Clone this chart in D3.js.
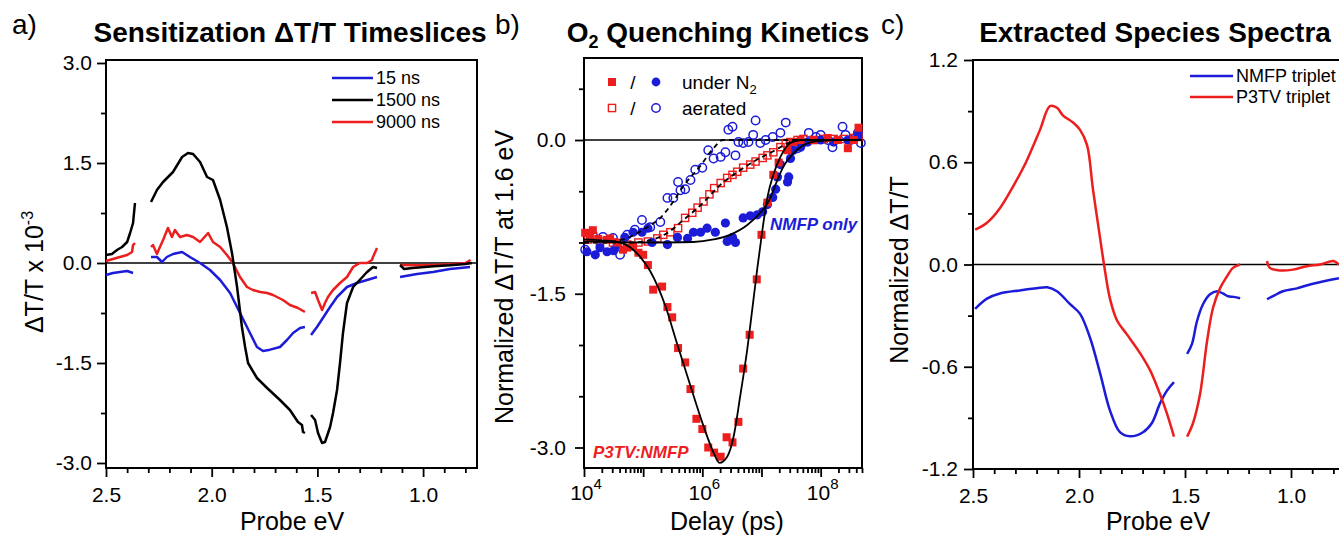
<!DOCTYPE html>
<html>
<head>
<meta charset="utf-8">
<script src="https://cdn.jsdelivr.net/npm/d3@7"></script>
<style>
  body { margin: 0; background: #fff; }
  svg { font-family: "Liberation Sans", Arial, sans-serif; }
</style>
</head>
<body>
<svg id="chart" width="1339" height="536"></svg>
<script>
// ---- panel a: timeslices, [probe eV, dT/T x 1e-3], split in detector segments
const slice15ns = [
  [[2.5,-0.18],[2.467,-0.15],[2.434,-0.135],[2.40,-0.12],[2.372,-0.15]],
  [[2.287,0.09],[2.259,0.09],[2.235,0.015],[2.212,0.09],[2.183,0.135],[2.14,0.165],[2.103,0.09],[2.055,0],[2.008,-0.105],[1.96,-0.255],[1.913,-0.45],[1.866,-0.75],[1.819,-1.05],[1.786,-1.26],[1.757,-1.32],[1.724,-1.3],[1.677,-1.26],[1.644,-1.155],[1.615,-1.05],[1.582,-0.975],[1.559,-0.96]],
  [[1.53,-1.08],[1.502,-0.96],[1.474,-0.825],[1.44,-0.66],[1.407,-0.51],[1.36,-0.36],[1.313,-0.3],[1.265,-0.255],[1.218,-0.21]],
  [[1.109,-0.21],[1.029,-0.165],[0.953,-0.135],[0.873,-0.09],[0.778,-0.06]]
];
const slice1500ns = [
  [[2.5,0.12],[2.472,0.135],[2.448,0.195],[2.424,0.24],[2.40,0.315],[2.386,0.45],[2.372,0.6],[2.363,0.9]],
  [[2.287,0.915],[2.259,1.095],[2.23,1.215],[2.183,1.365],[2.14,1.59],[2.112,1.65],[2.088,1.635],[2.055,1.515],[2.022,1.29],[1.994,1.245],[1.96,0.945],[1.928,0.54],[1.904,0.15],[1.88,-0.36],[1.857,-0.96],[1.842,-1.26],[1.828,-1.5],[1.786,-1.725],[1.738,-1.875],[1.677,-2.055],[1.63,-2.205],[1.592,-2.385],[1.573,-2.43],[1.568,-2.535],[1.559,-2.55]],
  [[1.53,-2.28],[1.511,-2.355],[1.497,-2.55],[1.478,-2.7],[1.464,-2.685],[1.44,-2.46],[1.426,-2.25],[1.407,-1.905],[1.393,-1.5],[1.379,-1.05],[1.36,-0.6],[1.331,-0.36],[1.3,-0.255],[1.265,-0.135],[1.237,-0.06],[1.218,-0.075]],
  [[1.109,-0.03],[1.09,-0.09],[1.05,-0.075],[0.95,-0.05],[0.873,-0.035],[0.80,-0.015],[0.769,0]]
];
const slice9000ns = [
  [[2.5,0.03],[2.467,0.06],[2.434,0.09],[2.40,0.12],[2.377,0.165],[2.372,0.27],[2.363,0.3]],
  [[2.287,0.24],[2.278,0.27],[2.259,0.135],[2.245,0.24],[2.23,0.345],[2.207,0.525],[2.188,0.39],[2.174,0.495],[2.15,0.39],[2.117,0.42],[2.088,0.39],[2.055,0.315],[2.017,0.45],[1.994,0.315],[1.96,0.24],[1.928,0.12],[1.9,0.0],[1.866,-0.21],[1.833,-0.36],[1.805,-0.405],[1.771,-0.435],[1.738,-0.45],[1.71,-0.48],[1.663,-0.555],[1.63,-0.63],[1.592,-0.675],[1.559,-0.735]],
  [[1.53,-0.45],[1.511,-0.435],[1.497,-0.555],[1.478,-0.705],[1.464,-0.6],[1.45,-0.51],[1.426,-0.405],[1.393,-0.3],[1.36,-0.21],[1.331,-0.06],[1.3,0.0],[1.265,0],[1.242,0.045],[1.237,0.09],[1.218,0.225]],
  [[1.109,-0.03],[1.03,-0.035],[0.95,-0.03],[0.87,-0.02],[0.80,0.0],[0.775,0.045]]
];
const sliceNames = ["15 ns", "1500 ns", "9000 ns"];

// ---- panel b: kinetics, [log10 delay (ps), normalized dT/T]
const n2P3tv = [[4.02,-0.905],[4.10,-0.955],[4.15,-0.88],[4.24,-0.965],[4.39,-0.974],[4.44,-0.96],[4.56,-1.0],[4.66,-1.07],[4.73,-1.05],[4.83,-1.04],[4.92,-1.10],[5.0,-1.12],[5.08,-1.22],[5.17,-1.46],[5.32,-1.43],[5.41,-1.63],[5.49,-1.73],[5.59,-2.03],[5.71,-2.17],[5.80,-2.43],[5.90,-2.72],[6.0,-2.82],[6.10,-3.0],[6.20,-3.05],[6.31,-3.09],[6.41,-2.90],[6.51,-2.95],[6.61,-2.75],[6.69,-2.23],[6.80,-1.90],[6.92,-1.36],[7.0,-0.925],[7.10,-0.61],[7.20,-0.34],[7.29,-0.22],[7.44,-0.10],[7.54,-0.02],[7.66,0],[7.88,0],[8.12,0.02],[8.29,0],[8.46,-0.08],[8.56,0],[8.64,0.12]];
const n2Nmfp = [[4.05,-1.09],[4.19,-1.12],[4.27,-1.05],[4.39,-1.09],[4.5,-1.08],[4.56,-1.03],[4.69,-0.95],[4.83,-0.9],[4.98,-0.9],[5.08,-0.86],[5.15,-1.0],[5.41,-1.02],[5.58,-0.95],[5.75,-0.96],[5.85,-0.9],[5.97,-0.9],[6.08,-0.86],[6.22,-0.9],[6.39,-0.81],[6.42,-0.99],[6.51,-0.95],[6.56,-1.0],[6.69,-0.76],[6.81,-0.74],[6.93,-0.73],[7.02,-0.70],[7.10,-0.63],[7.19,-0.56],[7.24,-0.48],[7.27,-0.36],[7.32,-0.24],[7.44,-0.41],[7.46,-0.36],[7.49,-0.18],[7.54,-0.10],[7.66,-0.07],[7.78,-0.02],[8.00,0],[8.22,-0.02],[8.46,0],[8.63,0.05]];
const airP3tv = [[4.07,-0.97],[4.27,-0.99],[4.49,-1.0],[4.73,-1.02],[4.92,-1.0],[5.08,-0.99],[5.24,-0.96],[5.34,-0.925],[5.46,-0.90],[5.59,-0.86],[5.71,-0.76],[5.83,-0.71],[5.92,-0.66],[6.02,-0.6],[6.12,-0.53],[6.2,-0.47],[6.31,-0.42],[6.42,-0.37],[6.51,-0.34],[6.59,-0.31],[6.69,-0.27],[6.81,-0.24],[6.90,-0.21],[7.02,-0.175],[7.10,-0.15],[7.20,-0.12],[7.32,-0.07],[7.41,-0.03],[7.49,-0.02],[7.61,0],[7.71,0.01],[7.88,0],[8.05,0.01],[8.22,0.01],[8.39,0.01],[8.56,0.02],[8.64,0.03]];
const airNmfp = [[4.02,-1.07],[4.15,-0.925],[4.32,-0.945],[4.49,-0.955],[4.61,-1.12],[4.73,-0.925],[4.86,-0.876],[4.98,-0.78],[5.12,-0.85],[5.29,-0.80],[5.41,-0.565],[5.51,-0.565],[5.59,-0.41],[5.63,-0.49],[5.71,-0.48],[5.80,-0.39],[5.88,-0.29],[6.00,-0.27],[6.10,-0.10],[6.19,-0.18],[6.31,-0.165],[6.39,-0.12],[6.44,0.10],[6.51,0.13],[6.56,-0.15],[6.61,-0.02],[6.69,-0.03],[6.78,-0.02],[6.86,0.05],[6.90,0.19],[6.98,-0.03],[7.07,0],[7.19,0.03],[7.32,0.07],[7.41,0.17],[7.49,-0.03],[7.61,-0.08],[7.69,-0.03],[7.80,0.07],[7.92,0.03],[8.00,0.05],[8.12,0],[8.20,-0.07],[8.37,0.13],[8.42,0.05],[8.51,0],[8.63,0.07],[8.68,-0.03]];
const fitN2P3tv = [[4.0,-0.97],[4.3,-0.98],[4.61,-1.0],[4.95,-1.14],[5.12,-1.28],[5.37,-1.61],[5.57,-1.98],[5.80,-2.40],[6.02,-2.79],[6.19,-3.05],[6.29,-3.15],[6.42,-3.09],[6.53,-2.89],[6.64,-2.50],[6.76,-2.04],[6.87,-1.53],[6.93,-1.25],[7.02,-0.86],[7.10,-0.56],[7.20,-0.34],[7.32,-0.165],[7.49,-0.03],[7.66,0],[8.70,0]];
const fitN2Nmfp = [[4.0,-0.99],[5.0,-1.0],[5.85,-0.995],[6.19,-0.97],[6.47,-0.925],[6.76,-0.83],[6.98,-0.71],[7.12,-0.60],[7.27,-0.39],[7.37,-0.26],[7.54,-0.13],[7.71,-0.05],[7.95,-0.01],[8.3,0],[8.70,0]];
const fitAirP3tv = [[4.0,-1.0],[4.8,-1.0],[5.1,-0.98],[5.4,-0.91],[5.7,-0.77],[6.0,-0.62],[6.3,-0.44],[6.6,-0.31],[6.9,-0.2],[7.2,-0.11],[7.45,-0.03],[7.7,0],[8.7,0]];
const fitAirNmfp = [[4.0,-1.0],[4.5,-0.99],[4.66,-0.97],[5.07,-0.85],[5.29,-0.76],[5.51,-0.60],[5.68,-0.45],[5.97,-0.25],[6.19,-0.08],[6.35,0],[8.7,0]];
const delayLabelExps = [4, 6, 8];

// ---- panel c: species spectra, [probe eV, normalized dT/T]
const nmfpTriplet = [
  [[2.49,-0.26],[2.434,-0.20],[2.373,-0.17],[2.28,-0.152],[2.20,-0.14],[2.15,-0.134],[2.104,-0.157],[2.042,-0.233],[1.995,-0.29],[1.948,-0.43],[1.90,-0.64],[1.854,-0.856],[1.807,-0.984],[1.76,-1.008],[1.698,-0.984],[1.656,-0.93],[1.618,-0.815],[1.585,-0.74],[1.552,-0.69]],
  [[1.49,-0.525],[1.467,-0.466],[1.443,-0.33],[1.415,-0.233],[1.382,-0.175],[1.349,-0.157],[1.321,-0.17],[1.297,-0.186],[1.27,-0.19],[1.24,-0.198]],
  [[1.113,-0.204],[1.085,-0.186],[1.038,-0.157],[0.972,-0.14],[0.91,-0.117],[0.85,-0.1],[0.774,-0.08]]
];
const p3tvTriplet = [
  [[2.49,0.204],[2.434,0.245],[2.373,0.33],[2.31,0.46],[2.25,0.6],[2.184,0.79],[2.137,0.93],[2.104,0.92],[2.075,0.874],[2.028,0.833],[1.995,0.79],[1.962,0.70],[1.934,0.44],[1.90,0.15],[1.882,0],[1.854,-0.2],[1.82,-0.33],[1.774,-0.41],[1.712,-0.52],[1.665,-0.62],[1.618,-0.76],[1.585,-0.875],[1.552,-1.01]],
  [[1.49,-1.01],[1.462,-0.93],[1.429,-0.76],[1.396,-0.45],[1.368,-0.255],[1.335,-0.14],[1.302,-0.07],[1.274,-0.02],[1.24,0]],
  [[1.113,0.02],[1.10,-0.02],[1.052,-0.035],[0.99,-0.03],[0.925,-0.01],[0.863,0],[0.80,0.02],[0.774,0]]
];
const speciesNames = ["NMFP triplet", "P3TV triplet"];

const BLUE = "#1c1cd8", RED = "#ec1e1e", BLACK = "#000";
const svg = d3.select("#chart");

function drawAxes(x, y, o) {
  const [xl, xr] = x.range();
  const [yb, yt] = y.range();
  const g = svg.append("g");
  g.append("g").attr("transform", `translate(0,${yb})`)
    .call(d3.axisBottom(x).tickValues(o.xMinor).tickSize(5).tickFormat(""));
  g.append("g").attr("transform", `translate(0,${yb})`)
    .call(d3.axisBottom(x).tickValues(o.xMajor).tickSize(9).tickPadding(10).tickFormat(o.xFmt));
  g.append("g").attr("transform", `translate(${xl},0)`)
    .call(d3.axisLeft(y).tickValues(o.yMinor).tickSize(5).tickFormat(""));
  g.append("g").attr("transform", `translate(${xl},0)`)
    .call(d3.axisLeft(y).tickValues(o.yMajor).tickSize(9).tickPadding(o.yPad || 5).tickFormat((d) => d.toFixed(1)));
  g.selectAll(".domain").remove();
  g.selectAll(".tick line").attr("stroke", BLACK).attr("stroke-width", 1.8);
  g.selectAll(".tick text").attr("fill", BLACK).style("font-size", "21px")
    .style("font-family", '"Liberation Sans", Arial, sans-serif');
  // zero line and frame
  svg.append("line").attr("x1", xl).attr("x2", xr).attr("y1", y(0)).attr("y2", y(0))
    .attr("stroke", BLACK).attr("stroke-width", 1.6);
  svg.append("rect").attr("x", xl).attr("y", yt).attr("width", xr - xl).attr("height", yb - yt)
    .attr("fill", "none").attr("stroke", BLACK).attr("stroke-width", 2);
}

function drawSegments(series, line, color) {
  series.forEach((seg) => {
    svg.append("path").datum(seg).attr("d", line)
      .attr("fill", "none").attr("stroke", color).attr("stroke-width", 2.5)
      .attr("stroke-linejoin", "round");
  });
}

function heading(letter, lx, title, cx, sub) {
  svg.append("text").attr("x", lx).attr("y", 34).style("font-size", "28px").text(letter);
  const t = svg.append("text").attr("x", cx).attr("y", 42).attr("text-anchor", "middle")
    .style("font-size", "28px").style("font-weight", "bold");
  if (sub) {
    t.append("tspan").text("O");
    t.append("tspan").attr("dy", 6).style("font-size", "18px").text("2");
    t.append("tspan").attr("dy", -6).text(" " + title);
  } else {
    t.text(title);
  }
}

function yTitle(x, y, build) {
  const t = svg.append("text").attr("transform", `translate(${x},${y}) rotate(-90)`)
    .attr("text-anchor", "middle").style("font-size", "25px");
  build(t);
}

function xTitle(x, label) {
  svg.append("text").attr("x", x).attr("y", 530).attr("text-anchor", "middle")
    .style("font-size", "25px").text(label);
}

const eVMinor = d3.range(8, 25).map((d) => d / 10).filter((d) => d % 0.5 !== 0 && Math.abs(d * 2 - Math.round(d * 2)) > 1e-6);

// ---------------- panel a
const xA = d3.scaleLinear([2.5, 0.745], [106, 477]);
const yA = d3.scaleLinear([-3.075, 3.045], [468, 60]);
drawAxes(xA, yA, {
  xMajor: [2.5, 2.0, 1.5, 1.0], xMinor: eVMinor, xFmt: (d) => d.toFixed(1),
  yMajor: [3, 1.5, 0, -1.5, -3], yMinor: [2.25, 0.75, -0.75, -2.25]
});
const lineA = d3.line().x((d) => xA(d[0])).y((d) => yA(d[1]));
drawSegments(slice15ns, lineA, BLUE);
drawSegments(slice9000ns, lineA, RED);
drawSegments(slice1500ns, lineA, BLACK);
[BLUE, BLACK, RED].forEach((c, i) => {
  const yy = 78 + i * 22;
  svg.append("line").attr("x1", 332).attr("x2", 373).attr("y1", yy).attr("y2", yy)
    .attr("stroke", c).attr("stroke-width", 2.5);
  svg.append("text").attr("x", 376).attr("y", yy).attr("dy", "0.35em")
    .style("font-size", "18px").text(sliceNames[i]);
});
heading("a)", 12, "Sensitization \u0394T/T Timeslices", 290);
yTitle(43, 272, (t) => {
  t.append("tspan").text("\u0394T/T x 10");
  t.append("tspan").attr("dy", -10).style("font-size", "16px").text("-3");
});
xTitle(292, "Probe eV");

// ---------------- panel b
const xB = d3.scaleLog([1e4, 5e8], [584, 862]);
const yB = d3.scaleLinear([-3.2, 0.8], [468, 58]);
const decades = [4, 5, 6, 7, 8];
const logMinor = [];
decades.forEach((e) => d3.range(2, 10).forEach((k) => { if (k * 10 ** e <= 5e8) logMinor.push(k * 10 ** e); }));
drawAxes(xB, yB, {
  xMajor: decades.map((e) => 10 ** e), xMinor: logMinor, xFmt: () => "",
  yMajor: [0, -1.5, -3], yMinor: [0.5, -0.5, -1, -2, -2.5], yPad: 9
});
delayLabelExps.forEach((e) => {
  const t = svg.append("text").attr("x", xB(10 ** e) + 2).attr("y", 500)
    .attr("text-anchor", "middle").style("font-size", "21px");
  t.append("tspan").text("10");
  t.append("tspan").attr("dy", -11).style("font-size", "15px").text(e);
});
const px = (d) => xB(10 ** d[0]);
const py = (d) => yB(d[1]);
svg.append("g").selectAll("circle").data(airNmfp).join("circle")
  .attr("cx", px).attr("cy", py).attr("r", 4.2)
  .attr("fill", "none").attr("stroke", BLUE).attr("stroke-width", 1.5);
svg.append("g").selectAll("rect").data(airP3tv).join("rect")
  .attr("x", (d) => px(d) - 3.6).attr("y", (d) => py(d) - 3.6).attr("width", 7.2).attr("height", 7.2)
  .attr("fill", "none").attr("stroke", RED).attr("stroke-width", 1.4);
svg.append("g").selectAll("circle").data(n2Nmfp).join("circle")
  .attr("cx", px).attr("cy", py).attr("r", 4.6).attr("fill", BLUE);
svg.append("g").selectAll("rect").data(n2P3tv).join("rect")
  .attr("x", (d) => px(d) - 4).attr("y", (d) => py(d) - 4).attr("width", 8).attr("height", 8)
  .attr("fill", RED);
const lineB = d3.line().x(px).y(py).curve(d3.curveMonotoneX);
[[fitN2P3tv, null], [fitN2Nmfp, null], [fitAirP3tv, "5,4"], [fitAirNmfp, "5,4"]].forEach(([f, dash]) => {
  svg.append("path").datum(f).attr("d", lineB).attr("fill", "none")
    .attr("stroke", BLACK).attr("stroke-width", 1.8).attr("stroke-dasharray", dash);
});
// legend b
svg.append("rect").attr("x", 608).attr("y", 78).attr("width", 8).attr("height", 8).attr("fill", RED);
svg.append("circle").attr("cx", 656).attr("cy", 82).attr("r", 4.4).attr("fill", BLUE);
svg.append("rect").attr("x", 608.4).attr("y", 104.4).attr("width", 7.2).attr("height", 7.2)
  .attr("fill", "none").attr("stroke", RED).attr("stroke-width", 1.4);
svg.append("circle").attr("cx", 656).attr("cy", 108).attr("r", 4.2)
  .attr("fill", "none").attr("stroke", BLUE).attr("stroke-width", 1.5);
[82, 108].forEach((yy) => svg.append("text").attr("x", 633).attr("y", yy).attr("dy", "0.35em")
  .attr("text-anchor", "middle").style("font-size", "19px").text("/"));
const ln2 = svg.append("text").attr("x", 682).attr("y", 82).attr("dy", "0.35em").style("font-size", "19px");
ln2.append("tspan").text("under N");
ln2.append("tspan").attr("dy", 5).style("font-size", "13px").text("2");
svg.append("text").attr("x", 682).attr("y", 108).attr("dy", "0.35em").style("font-size", "19px").text("aerated");
svg.append("text").attr("x", 770).attr("y", 230).style("font-size", "17px").style("font-weight", "bold")
  .style("font-style", "italic").attr("fill", BLUE).text("NMFP only");
svg.append("text").attr("x", 593).attr("y", 458).style("font-size", "17px").style("font-weight", "bold")
  .style("font-style", "italic").attr("fill", RED).text("P3TV:NMFP");
heading("b)", 495, "Quenching Kinetics", 718, true);
yTitle(513, 277, (t) => t.text("Normalized \u0394T/T at 1.6 eV"));
xTitle(727, "Delay (ps)");

// ---------------- panel c
const xC = d3.scaleLinear([2.5, 0.75], [973, 1344]);
const yC = d3.scaleLinear([-1.2, 1.2], [469, 60]);
drawAxes(xC, yC, {
  xMajor: [2.5, 2.0, 1.5, 1.0], xMinor: eVMinor, xFmt: (d) => d.toFixed(1),
  yMajor: [1.2, 0.6, 0, -0.6, -1.2], yMinor: [0.9, 0.3, -0.3, -0.9], yPad: 6
});
const lineC = d3.line().x((d) => xC(d[0])).y((d) => yC(d[1])).curve(d3.curveCatmullRom);
drawSegments(nmfpTriplet, lineC, BLUE);
drawSegments(p3tvTriplet, lineC, RED);
[BLUE, RED].forEach((c, i) => {
  const yy = 76 + i * 21;
  svg.append("line").attr("x1", 1190).attr("x2", 1233).attr("y1", yy).attr("y2", yy)
    .attr("stroke", c).attr("stroke-width", 2.5);
  svg.append("text").attr("x", 1236).attr("y", yy).attr("dy", "0.35em")
    .style("font-size", "18px").text(speciesNames[i]);
});
heading("c)", 881, "Extracted Species Spectra", 1155);
yTitle(908, 270, (t) => t.text("Normalized \u0394T/T"));
xTitle(1158, "Probe eV");
</script>
</body>
</html>
